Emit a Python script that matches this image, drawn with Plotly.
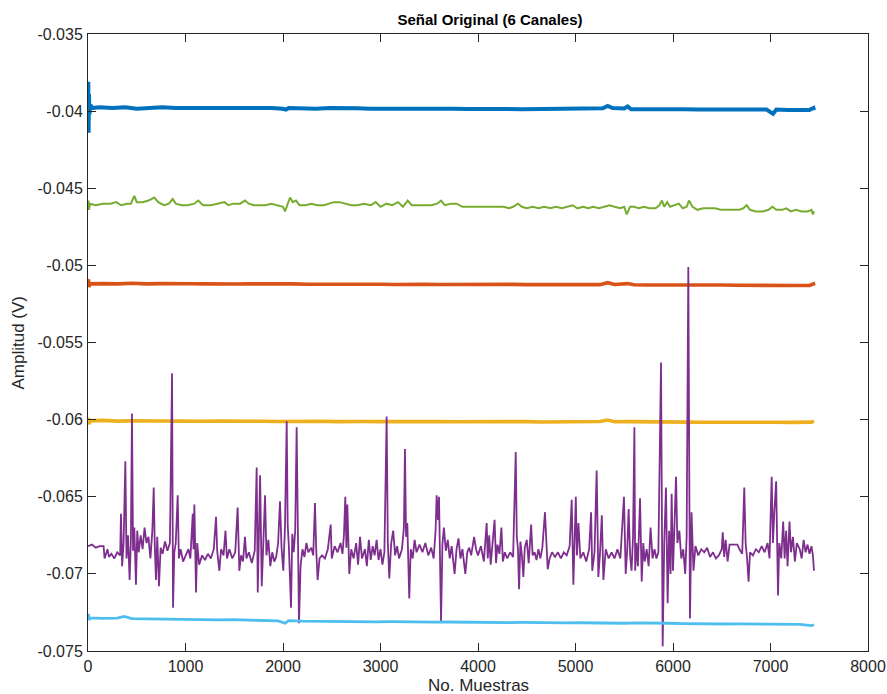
import plotly.graph_objects as go

# ---------------- data ----------------
channel_names = ["Canal 1", "Canal 2", "Canal 3", "Canal 4", "Canal 5", "Canal 6"]

# Canal 1 (blue)
c1_x = [0, 3, 6, 10, 15, 25, 40, 120, 250, 380, 500, 640, 760, 900, 1040, 1180, 1320, 1460,
        1600, 1740, 1880, 2000, 2031, 2060, 2200, 2340, 2480, 2620, 2760, 2900, 3040, 3180,
        3320, 3460, 3600, 3740, 3880, 4020, 4160, 4300, 4440, 4580, 4720, 4860, 5000, 5140,
        5280, 5330, 5380, 5500, 5535, 5570, 5700, 5840, 5980, 6120, 6260, 6400, 6540, 6680,
        6820, 6960, 7026, 7060, 7180, 7300, 7400, 7440, 7446]
c1_y = [-0.0398, -0.0381, -0.0414, -0.0389, -0.0402, -0.0396, -0.0398, -0.03975, -0.0398, -0.03975,
        -0.03985, -0.0398, -0.03975, -0.0398, -0.0398, -0.03978, -0.0398, -0.03982, -0.0398,
        -0.03983, -0.0398, -0.03985, -0.0399, -0.0398, -0.03982, -0.03985, -0.0398, -0.03984,
        -0.03982, -0.03985, -0.03984, -0.03986, -0.03985, -0.03984, -0.03986, -0.03985,
        -0.03987, -0.03985, -0.03987, -0.03986, -0.03988, -0.03986, -0.03987, -0.03985,
        -0.03986, -0.03984, -0.03982, -0.03966, -0.0398, -0.03983, -0.0397, -0.03988, -0.03987,
        -0.03988, -0.0399, -0.03988, -0.0399, -0.03989, -0.0399, -0.0399, -0.03989, -0.0399,
        -0.04018, -0.0399, -0.03992, -0.03993, -0.03992, -0.0398, -0.03995]

# Canal 2 (orange)
c2_x = [0, 5, 10, 20, 150, 300, 450, 600, 750, 900, 1050, 1200, 1350, 1500, 1650, 1800, 1950,
        2100, 2250, 2400, 2550, 2700, 2850, 3000, 3150, 3300, 3450, 3600, 3750, 3900, 4050,
        4200, 4350, 4500, 4650, 4800, 4950, 5100, 5250, 5330, 5400, 5535, 5600, 5750, 5900,
        6050, 6200, 6350, 6500, 6650, 6800, 6950, 7100, 7250, 7400, 7440, 7446]
c2_y = [-0.0511, -0.0509, -0.0514, -0.0512, -0.05118, -0.0512, -0.05116, -0.0512, -0.05118,
        -0.05121, -0.05119, -0.0512, -0.05118, -0.05121, -0.0512, -0.05119, -0.05121, -0.0512,
        -0.05122, -0.05121, -0.05123, -0.05121, -0.05123, -0.05122, -0.05124, -0.05122,
        -0.05123, -0.05124, -0.05123, -0.05125, -0.05124, -0.05125, -0.05123, -0.05125,
        -0.05124, -0.05126, -0.05124, -0.05126, -0.05125, -0.05112, -0.05124, -0.05118, -0.05126,
        -0.05127, -0.05126, -0.05128, -0.05127, -0.05128, -0.05127, -0.05129, -0.05128,
        -0.0513, -0.05129, -0.0513, -0.0513, -0.0512, -0.05132]

# Canal 3 (yellow)
c3_x = [0, 5, 10, 20, 150, 300, 450, 600, 750, 900, 1050, 1200, 1350, 1500, 1650, 1800, 1950,
        2100, 2250, 2400, 2550, 2700, 2850, 3000, 3150, 3300, 3450, 3600, 3750, 3900, 4050,
        4200, 4350, 4500, 4650, 4800, 4950, 5100, 5250, 5330, 5400, 5550, 5700, 5850, 6000,
        6150, 6300, 6450, 6600, 6750, 6900, 7050, 7200, 7350, 7420, 7446]
c3_y = [-0.0601, -0.0599, -0.0603, -0.06008, -0.06005, -0.0601, -0.06008, -0.06011, -0.06009,
        -0.0601, -0.06008, -0.06011, -0.0601, -0.06012, -0.0601, -0.06011, -0.06012, -0.0601,
        -0.06012, -0.06011, -0.06013, -0.06011, -0.06012, -0.06013, -0.06012, -0.0601,
        -0.06013, -0.06012, -0.06014, -0.06013, -0.06014, -0.06012, -0.06014, -0.06013,
        -0.06015, -0.06014, -0.06015, -0.06013, -0.06012, -0.06003, -0.06014, -0.06013,
        -0.06015, -0.06016, -0.06014, -0.06016, -0.06017, -0.06016, -0.06018, -0.06016,
        -0.06018, -0.06017, -0.06018, -0.06019, -0.06016, -0.0601]

# Canal 4 (purple) - sample index / amplitude pairs
c4_x = [0, 40, 80, 120, 160, 170, 200, 215, 240, 270, 300, 330, 338, 350, 365, 383, 395, 410,
        427, 440, 451, 462, 475, 492, 505, 520, 540, 560, 580, 600, 620, 640, 660, 674, 685,
        697, 710, 728, 745, 765, 790, 815, 840, 862, 872, 885, 900, 920, 932, 950, 975, 1000,
        1030, 1050, 1074, 1082, 1091, 1108, 1120, 1140, 1170, 1200, 1230, 1260, 1290, 1313,
        1325, 1347, 1365, 1390, 1410, 1425, 1450, 1480, 1510, 1535, 1552, 1570, 1590, 1610,
        1625, 1650, 1680, 1710, 1730, 1741, 1752, 1765, 1782, 1795, 1816, 1830, 1850, 1870,
        1890, 1910, 1930, 1950, 1969, 1985, 2003, 2020, 2038, 2048, 2060, 2082, 2095, 2110,
        2125, 2140, 2152, 2164, 2180, 2200, 2220, 2240, 2260, 2290, 2310, 2328, 2340, 2355,
        2375, 2400, 2430, 2460, 2489, 2500, 2530, 2560, 2590, 2610, 2625, 2639, 2650, 2660,
        2680, 2700, 2725, 2750, 2770, 2790, 2810, 2840, 2860, 2880, 2900, 2920, 2940, 2960,
        2980, 3000, 3020, 3040, 3063, 3075, 3090, 3110, 3130, 3150, 3170, 3190, 3220, 3240,
        3251, 3262, 3275, 3295, 3310, 3330, 3350, 3370, 3400, 3430, 3460, 3490, 3520, 3545,
        3565, 3576, 3590, 3600, 3621, 3635, 3650, 3670, 3690, 3710, 3730, 3760, 3780, 3800,
        3820, 3840, 3870, 3890, 3910, 3930, 3960, 3980, 4000, 4030, 4060, 4089, 4100, 4115,
        4130, 4150, 4170, 4185, 4200, 4220, 4240, 4255, 4275, 4300, 4330, 4360, 4387, 4398,
        4410, 4421, 4435, 4450, 4465, 4480, 4500, 4520, 4545, 4560, 4580, 4600, 4620, 4640,
        4660, 4687, 4700, 4715, 4735, 4760, 4790, 4820, 4850, 4880, 4910, 4940, 4961, 4970,
        4978, 4990, 5003, 5015, 5030, 5050, 5080, 5110, 5140, 5160, 5172, 5195, 5217, 5234,
        5250, 5270, 5286, 5310, 5340, 5370, 5400, 5430, 5460, 5497, 5515, 5530, 5545, 5560,
        5575, 5590, 5604, 5612, 5625, 5640, 5662, 5679, 5695, 5710, 5730, 5750, 5770, 5790,
        5810, 5830, 5850, 5877, 5894, 5910, 5928, 5945, 5960, 5975, 5986, 6000, 6015, 6031,
        6045, 6065, 6085, 6105, 6125, 6140, 6157, 6174, 6190, 6210, 6230, 6260, 6290, 6320,
        6350, 6380, 6410, 6440, 6470, 6500, 6510, 6525, 6540, 6560, 6580, 6620, 6660, 6690,
        6710, 6731, 6745, 6760, 6775, 6790, 6820, 6850, 6880, 6910, 6940, 6970, 6990, 7012,
        7025, 7040, 7058, 7077, 7090, 7110, 7130, 7145, 7160, 7175, 7195, 7210, 7230, 7250,
        7270, 7300, 7320, 7340, 7360, 7380, 7400, 7420, 7435, 7446]
c4_y = [-0.0682, -0.0681, -0.0683, -0.0682, -0.0682, -0.0690, -0.0684, -0.0689, -0.0687,
        -0.0690, -0.0686, -0.0688, -0.0661, -0.0695, -0.0680, -0.0627, -0.0690, -0.0675,
        -0.0704, -0.0678, -0.0596, -0.0685, -0.0670, -0.0707, -0.0672, -0.0686, -0.0675,
        -0.0684, -0.0670, -0.0680, -0.0676, -0.0690, -0.0672, -0.0644, -0.0682, -0.0704,
        -0.0676, -0.0708, -0.0683, -0.0687, -0.0679, -0.0685, -0.0680, -0.0570, -0.0722,
        -0.0686, -0.0680, -0.0649, -0.0690, -0.0684, -0.0692, -0.0688, -0.0684, -0.0690,
        -0.0661, -0.0684, -0.0655, -0.0712, -0.0680, -0.0694, -0.0688, -0.0691, -0.0687,
        -0.0690, -0.0684, -0.0663, -0.0685, -0.0698, -0.0684, -0.0688, -0.0672, -0.0690,
        -0.0684, -0.0690, -0.0686, -0.0657, -0.0698, -0.0688, -0.0692, -0.0676, -0.0690,
        -0.0686, -0.0693, -0.0685, -0.0631, -0.0712, -0.0676, -0.0636, -0.0708, -0.0684,
        -0.0649, -0.0688, -0.0678, -0.0695, -0.0686, -0.0692, -0.0689, -0.0680, -0.0653,
        -0.0683, -0.0698, -0.0670, -0.0601, -0.0668, -0.0682, -0.0722, -0.0674, -0.0686,
        -0.0672, -0.0605, -0.0676, -0.0732, -0.0695, -0.0684, -0.0689, -0.0680, -0.0686,
        -0.0683, -0.0688, -0.0654, -0.0683, -0.0704, -0.0690, -0.0688, -0.0690, -0.0684,
        -0.0668, -0.0690, -0.0682, -0.0686, -0.0680, -0.0687, -0.0675, -0.0650, -0.0683,
        -0.0655, -0.0700, -0.0684, -0.0690, -0.0680, -0.0694, -0.0676, -0.0690, -0.0684,
        -0.0695, -0.0678, -0.0691, -0.0682, -0.0688, -0.0678, -0.0691, -0.0684, -0.0694,
        -0.0686, -0.0598, -0.0680, -0.0703, -0.0680, -0.0672, -0.0688, -0.0682, -0.0690,
        -0.0684, -0.0670, -0.0619, -0.0676, -0.0667, -0.0716, -0.0684, -0.0690, -0.0678,
        -0.0686, -0.0681, -0.0686, -0.0680, -0.0688, -0.0683, -0.0690, -0.0672, -0.0649,
        -0.0665, -0.0650, -0.0731, -0.0681, -0.0670, -0.0685, -0.0678, -0.0690, -0.0682,
        -0.0700, -0.0684, -0.0677, -0.0690, -0.0684, -0.0700, -0.0686, -0.0683, -0.0688,
        -0.0676, -0.0684, -0.0688, -0.0682, -0.0692, -0.0667, -0.0690, -0.0675, -0.0694,
        -0.0678, -0.0665, -0.0693, -0.0681, -0.0687, -0.0670, -0.0692, -0.0686, -0.0690,
        -0.0686, -0.0689, -0.0621, -0.0676, -0.0684, -0.0710, -0.0679, -0.0688, -0.0702,
        -0.0683, -0.0678, -0.0693, -0.0668, -0.0688, -0.0686, -0.0691, -0.0684, -0.0690,
        -0.0683, -0.0660, -0.0682, -0.0697, -0.0690, -0.0686, -0.0689, -0.0686, -0.0690,
        -0.0686, -0.0688, -0.0682, -0.0652, -0.0685, -0.0707, -0.0680, -0.0650, -0.0688,
        -0.0667, -0.0690, -0.0686, -0.0692, -0.0684, -0.0660, -0.0698, -0.0686, -0.0633,
        -0.0702, -0.0688, -0.0662, -0.0704, -0.0684, -0.0690, -0.0686, -0.0690, -0.0684,
        -0.0690, -0.0650, -0.0700, -0.0685, -0.0658, -0.0688, -0.0698, -0.0676, -0.0605,
        -0.0698, -0.0680, -0.0695, -0.0651, -0.0705, -0.0680, -0.0692, -0.0684, -0.0695,
        -0.0670, -0.0690, -0.0684, -0.0690, -0.0686, -0.0563, -0.0747, -0.0680, -0.0644,
        -0.0719, -0.0672, -0.0700, -0.0648, -0.0698, -0.0670, -0.0637, -0.0680, -0.0672,
        -0.0690, -0.0684, -0.0700, -0.0676, -0.0501, -0.0729, -0.0660, -0.0698, -0.0682,
        -0.0688, -0.0684, -0.0686, -0.0683, -0.0689, -0.0686, -0.0690, -0.0688, -0.0684,
        -0.0673, -0.0689, -0.0678, -0.0692, -0.0681, -0.0681, -0.0681, -0.0685, -0.0687,
        -0.0644, -0.0680, -0.0690, -0.0705, -0.0686, -0.0688, -0.0684, -0.0686, -0.0682,
        -0.0686, -0.0680, -0.0690, -0.0637, -0.0680, -0.0659, -0.0640, -0.0714, -0.0680,
        -0.0690, -0.0666, -0.0690, -0.0672, -0.0695, -0.0666, -0.0686, -0.0676, -0.0692,
        -0.0680, -0.0684, -0.0690, -0.0678, -0.0686, -0.0681, -0.0687, -0.0682, -0.0688,
        -0.0698]

# Canal 5 (green)
c5_x = [0, 5, 10, 20, 80, 150, 230, 290, 340, 400, 440, 475, 500, 560, 620, 680, 720, 780,
        830, 868, 900, 960, 1020, 1090, 1130, 1180, 1260, 1330, 1400, 1440, 1490, 1560, 1610,
        1650, 1700, 1760, 1820, 1880, 1940, 2000, 2021, 2050, 2072, 2100, 2133, 2170, 2230,
        2290, 2350, 2420, 2480, 2520, 2580, 2640, 2700, 2760, 2830, 2900, 2950, 3000, 3060,
        3120, 3180, 3230, 3279, 3320, 3380, 3450, 3520, 3580, 3621, 3660, 3720, 3780, 3840,
        3900, 3960, 4020, 4080, 4140, 4200, 4260, 4320, 4360, 4410, 4450, 4500, 4560, 4620,
        4680, 4740, 4800, 4860, 4920, 4970, 5020, 5080, 5130, 5180, 5240, 5300, 5350, 5400,
        5460, 5500, 5525, 5560, 5600, 5650, 5700, 5760, 5820, 5860, 5887, 5910, 5940, 5970,
        6020, 6060, 6100, 6140, 6164, 6200, 6250, 6310, 6370, 6430, 6490, 6550, 6610, 6680,
        6720, 6756, 6790, 6850, 6920, 6980, 7020, 7060, 7120, 7160, 7210, 7260, 7320, 7380,
        7420, 7435, 7446]
c5_y = [-0.0461, -0.0458, -0.0464, -0.0460, -0.0461, -0.0460, -0.0460, -0.0459, -0.0461,
        -0.0460, -0.0460, -0.0455, -0.0459, -0.0459, -0.0458, -0.0456, -0.0459, -0.0461,
        -0.0460, -0.0457, -0.0460, -0.0461, -0.0461, -0.0460, -0.0458, -0.0461, -0.0461,
        -0.0460, -0.0459, -0.0461, -0.0460, -0.0460, -0.0458, -0.0460, -0.0461, -0.0461,
        -0.0461, -0.0460, -0.0461, -0.0462, -0.0465, -0.0459, -0.0456, -0.0459, -0.0458,
        -0.0461, -0.0461, -0.0460, -0.0461, -0.0461, -0.0460, -0.0459, -0.0459, -0.0460,
        -0.0461, -0.0461, -0.0460, -0.0461, -0.0459, -0.0462, -0.0460, -0.0461, -0.0459,
        -0.0462, -0.0458, -0.0461, -0.0461, -0.0461, -0.0461, -0.0460, -0.0458, -0.0461,
        -0.0460, -0.0460, -0.0462, -0.0462, -0.0462, -0.0462, -0.0462, -0.0462, -0.0462,
        -0.0462, -0.0463, -0.0462, -0.0460, -0.0462, -0.0463, -0.0462, -0.0463, -0.0462,
        -0.0463, -0.0462, -0.0463, -0.0462, -0.0461, -0.0463, -0.0462, -0.0463, -0.0462,
        -0.0463, -0.0462, -0.0461, -0.0462, -0.0463, -0.0462, -0.0467, -0.0462, -0.0462,
        -0.0463, -0.0462, -0.0463, -0.0463, -0.0461, -0.0458, -0.0462, -0.0459, -0.0462,
        -0.0461, -0.0460, -0.0463, -0.0462, -0.0458, -0.0462, -0.0464, -0.0463, -0.0463,
        -0.0463, -0.0464, -0.0464, -0.0464, -0.0464, -0.0463, -0.0461, -0.0464, -0.0465,
        -0.0465, -0.0464, -0.0462, -0.0464, -0.0464, -0.0463, -0.0465, -0.0464, -0.0465,
        -0.0465, -0.0464, -0.0467, -0.0465]

# Canal 6 (light blue)
c6_x = [0, 5, 10, 20, 150, 300, 370, 450, 600, 750, 900, 1050, 1200, 1350, 1500, 1650, 1800,
        1950, 2020, 2060, 2200, 2350, 2500, 2650, 2800, 2950, 3100, 3250, 3400, 3550, 3700,
        3850, 4000, 4150, 4300, 4450, 4600, 4750, 4900, 5050, 5200, 5350, 5500, 5650, 5800,
        5950, 6100, 6250, 6400, 6550, 6700, 6850, 7000, 7150, 7300, 7420, 7446]
c6_y = [-0.0728, -0.0726, -0.0730, -0.07285, -0.07288, -0.07287, -0.07276, -0.0729, -0.07292,
        -0.07294, -0.07293, -0.07296, -0.07295, -0.07298, -0.07297, -0.073, -0.07302,
        -0.07305, -0.0732, -0.07303, -0.07306, -0.07308, -0.07307, -0.0731, -0.07309,
        -0.07311, -0.0731, -0.07312, -0.07311, -0.07313, -0.07312, -0.07314, -0.07315,
        -0.07314, -0.07316, -0.07315, -0.07317, -0.07316, -0.07318, -0.07317, -0.07319,
        -0.07318, -0.0732, -0.07318, -0.07321, -0.0732, -0.07322, -0.07324, -0.07323,
        -0.07325, -0.07324, -0.07326, -0.07327, -0.07326, -0.07328, -0.07335, -0.0733]

x_tick_vals = [0, 1000, 2000, 3000, 4000, 5000, 6000, 7000, 8000]
y_tick_vals = [-0.075, -0.07, -0.065, -0.06, -0.055, -0.05, -0.045, -0.04, -0.035]
y_tick_text = ["-0.075", "-0.07", "-0.065", "-0.06", "-0.055", "-0.05", "-0.045", "-0.04", "-0.035"]

title_text = "Señal Original (6 Canales)"
x_title = "No. Muestras"
y_title = "Amplitud (V)"

# ---------------- styling ----------------
colors = ["#0072BD", "#D95319", "#EDB120", "#7E2F8E", "#77AC30", "#4DBEEE"]
widths = [4.0, 3.6, 3.6, 1.8, 2.0, 2.8]
FONT = "Liberation Sans Narrow, Arial Narrow, Liberation Sans, Arial, sans-serif"
AX = "#262626"

series = [(c1_x, c1_y), (c2_x, c2_y), (c3_x, c3_y), (c4_x, c4_y), (c5_x, c5_y), (c6_x, c6_y)]

fig = go.Figure()
for (xs, ys), name, col, w in zip(series, channel_names, colors, widths):
    fig.add_trace(go.Scatter(x=xs, y=ys, mode="lines", name=name,
                             line=dict(color=col, width=w), showlegend=False))

axis_common = dict(showline=True, linecolor=AX, linewidth=1, mirror="ticks",
                   ticks="inside", ticklen=8, tickcolor=AX, tickwidth=1,
                   showgrid=False, zeroline=False, automargin=False,
                   tickfont=dict(family=FONT, size=16, color=AX))

fig.update_layout(
    width=887, height=694,
    margin=dict(l=88, r=19, t=34, b=43),
    paper_bgcolor="white", plot_bgcolor="white",
    title=dict(text="<b>" + title_text + "</b>", x=490 / 887, xanchor="center",
               y=1 - 20 / 694, yanchor="middle", automargin=False,
               font=dict(family=FONT, size=15, color="black")),
    xaxis=dict(range=[0, 8000], tickvals=x_tick_vals, ticklabelstandoff=1, **axis_common),
    yaxis=dict(range=[-0.075, -0.035], tickvals=y_tick_vals, ticktext=y_tick_text,
               ticklabelstandoff=1, **axis_common),
    annotations=[
        dict(text=x_title, xref="paper", yref="paper", x=0.5, y=0, yshift=-34,
             xanchor="center", yanchor="middle", showarrow=False,
             font=dict(family=FONT, size=17, color=AX)),
        dict(text=y_title, xref="paper", yref="paper", x=0, y=0.5, xshift=-70,
             xanchor="center", yanchor="middle", showarrow=False, textangle=-90,
             font=dict(family=FONT, size=17, color=AX)),
    ],
)

fig.write_html("out.html")
